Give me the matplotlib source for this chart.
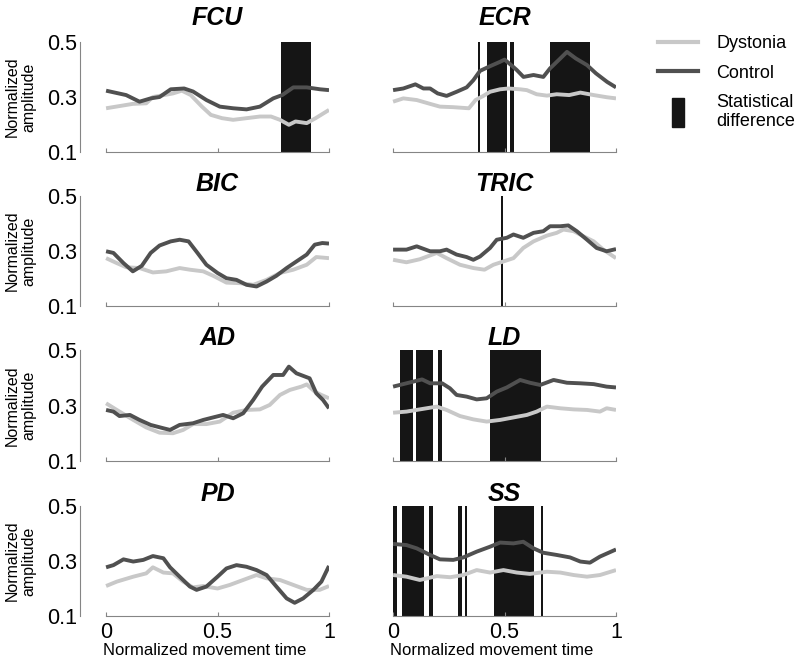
import matplotlib
matplotlib.use('Agg')
import matplotlib.pyplot as plt
from matplotlib.lines import Line2D
from matplotlib.patches import Rectangle
from matplotlib.legend_handler import HandlerPatch

plt.rcParams['font.family'] = ['Liberation Sans', 'DejaVu Sans']

# ---------- data ----------
muscles = ['FCU', 'ECR', 'BIC', 'TRIC', 'AD', 'LD', 'PD', 'SS']

fcu_cx = [0, 0.09, 0.15, 0.2, 0.24, 0.29, 0.35, 0.39, 0.45, 0.51, 0.57, 0.63, 0.69, 0.75, 0.79, 0.84, 0.9, 0.96, 1]
fcu_c = [0.323, 0.307, 0.283, 0.295, 0.30, 0.328, 0.331, 0.32, 0.289, 0.265, 0.259, 0.255, 0.265, 0.295, 0.307, 0.335, 0.335, 0.328, 0.325]
fcu_dx = [0, 0.06, 0.12, 0.18, 0.21, 0.26, 0.3, 0.34, 0.38, 0.43, 0.47, 0.52, 0.57, 0.63, 0.69, 0.74, 0.78, 0.82, 0.85, 0.9, 0.94, 1]
fcu_d = [0.259, 0.267, 0.275, 0.277, 0.30, 0.307, 0.313, 0.323, 0.307, 0.265, 0.235, 0.223, 0.217, 0.223, 0.229, 0.229, 0.217, 0.199, 0.211, 0.205, 0.223, 0.253]

ecr_cx = [0, 0.046, 0.1, 0.136, 0.166, 0.2, 0.24, 0.285, 0.33, 0.36, 0.39, 0.435, 0.48, 0.5, 0.53, 0.555, 0.585, 0.63, 0.674, 0.704, 0.75, 0.78, 0.82, 0.87, 0.91, 0.96, 1]
ecr_c = [0.325, 0.331, 0.346, 0.331, 0.331, 0.313, 0.304, 0.319, 0.335, 0.361, 0.395, 0.412, 0.428, 0.436, 0.416, 0.398, 0.373, 0.38, 0.373, 0.404, 0.44, 0.464, 0.44, 0.416, 0.386, 0.355, 0.335]
ecr_dx = [0, 0.046, 0.106, 0.166, 0.21, 0.27, 0.34, 0.37, 0.405, 0.435, 0.48, 0.517, 0.57, 0.6, 0.644, 0.69, 0.734, 0.79, 0.84, 0.9, 0.96, 1]
ecr_d = [0.283, 0.295, 0.289, 0.275, 0.265, 0.263, 0.259, 0.289, 0.304, 0.319, 0.328, 0.331, 0.328, 0.325, 0.31, 0.305, 0.31, 0.307, 0.316, 0.307, 0.299, 0.295]

bic_cx = [0, 0.033, 0.078, 0.12, 0.16, 0.2, 0.24, 0.29, 0.33, 0.37, 0.41, 0.45, 0.5, 0.54, 0.585, 0.63, 0.675, 0.72, 0.764, 0.81, 0.854, 0.9, 0.936, 0.97, 1]
bic_c = [0.299, 0.293, 0.256, 0.226, 0.246, 0.293, 0.32, 0.335, 0.341, 0.335, 0.293, 0.25, 0.22, 0.201, 0.195, 0.177, 0.171, 0.189, 0.21, 0.238, 0.262, 0.287, 0.323, 0.329, 0.327]
bic_dx = [0, 0.048, 0.09, 0.15, 0.21, 0.27, 0.33, 0.376, 0.436, 0.48, 0.54, 0.6, 0.66, 0.72, 0.78, 0.84, 0.9, 0.943, 1]
bic_d = [0.274, 0.256, 0.241, 0.238, 0.222, 0.226, 0.238, 0.232, 0.226, 0.21, 0.185, 0.183, 0.177, 0.195, 0.22, 0.232, 0.25, 0.278, 0.274]

tric_cx = [0, 0.06, 0.106, 0.166, 0.21, 0.24, 0.285, 0.33, 0.36, 0.39, 0.435, 0.465, 0.51, 0.54, 0.584, 0.63, 0.674, 0.704, 0.75, 0.786, 0.824, 0.87, 0.913, 0.958, 1]
tric_c = [0.305, 0.305, 0.317, 0.299, 0.299, 0.305, 0.287, 0.278, 0.268, 0.28, 0.311, 0.341, 0.348, 0.36, 0.348, 0.366, 0.372, 0.39, 0.39, 0.393, 0.372, 0.341, 0.311, 0.299, 0.307]
tric_dx = [0, 0.06, 0.12, 0.196, 0.24, 0.3, 0.36, 0.41, 0.45, 0.495, 0.54, 0.584, 0.63, 0.69, 0.734, 0.764, 0.81, 0.853, 0.9, 0.943, 1]
tric_d = [0.268, 0.259, 0.27, 0.293, 0.274, 0.25, 0.238, 0.232, 0.25, 0.262, 0.274, 0.311, 0.335, 0.356, 0.366, 0.378, 0.372, 0.354, 0.335, 0.305, 0.274]

ad_cx = [0, 0.033, 0.06, 0.107, 0.15, 0.2, 0.257, 0.287, 0.33, 0.39, 0.436, 0.48, 0.525, 0.57, 0.615, 0.66, 0.7, 0.75, 0.794, 0.82, 0.854, 0.913, 0.943, 0.973, 1]
ad_c = [0.284, 0.278, 0.262, 0.266, 0.248, 0.23, 0.218, 0.212, 0.23, 0.236, 0.248, 0.257, 0.266, 0.254, 0.272, 0.32, 0.368, 0.41, 0.41, 0.44, 0.416, 0.398, 0.344, 0.32, 0.29]
ad_dx = [0, 0.048, 0.122, 0.18, 0.24, 0.3, 0.346, 0.39, 0.45, 0.51, 0.57, 0.63, 0.69, 0.734, 0.78, 0.824, 0.876, 0.9, 0.936, 0.966, 1]
ad_d = [0.308, 0.284, 0.248, 0.221, 0.202, 0.2, 0.212, 0.233, 0.233, 0.242, 0.274, 0.284, 0.286, 0.302, 0.338, 0.356, 0.368, 0.376, 0.35, 0.338, 0.326]

ld_cx = [0, 0.06, 0.13, 0.166, 0.22, 0.255, 0.285, 0.33, 0.375, 0.42, 0.465, 0.51, 0.57, 0.614, 0.66, 0.72, 0.78, 0.84, 0.9, 0.958, 1]
ld_c = [0.368, 0.38, 0.394, 0.38, 0.38, 0.362, 0.338, 0.332, 0.322, 0.326, 0.35, 0.365, 0.392, 0.382, 0.374, 0.392, 0.382, 0.38, 0.377, 0.368, 0.365]
ld_dx = [0, 0.06, 0.12, 0.196, 0.24, 0.3, 0.36, 0.42, 0.48, 0.54, 0.6, 0.644, 0.69, 0.75, 0.81, 0.87, 0.928, 0.958, 1]
ld_d = [0.274, 0.278, 0.286, 0.296, 0.284, 0.262, 0.25, 0.242, 0.248, 0.257, 0.266, 0.278, 0.296, 0.29, 0.286, 0.284, 0.278, 0.29, 0.284]

pd_cx = [0, 0.033, 0.078, 0.122, 0.167, 0.21, 0.257, 0.287, 0.33, 0.376, 0.406, 0.45, 0.5, 0.54, 0.585, 0.63, 0.675, 0.72, 0.764, 0.81, 0.846, 0.884, 0.93, 0.966, 1]
pd_c = [0.277, 0.285, 0.306, 0.298, 0.304, 0.318, 0.31, 0.277, 0.243, 0.207, 0.195, 0.207, 0.243, 0.273, 0.285, 0.279, 0.267, 0.249, 0.207, 0.164, 0.148, 0.164, 0.195, 0.225, 0.282]
pd_dx = [0, 0.048, 0.122, 0.18, 0.21, 0.257, 0.3, 0.346, 0.39, 0.436, 0.5, 0.555, 0.615, 0.675, 0.72, 0.78, 0.84, 0.9, 0.958, 1]
pd_d = [0.209, 0.225, 0.243, 0.255, 0.277, 0.258, 0.255, 0.225, 0.204, 0.209, 0.2, 0.213, 0.231, 0.249, 0.237, 0.231, 0.213, 0.195, 0.195, 0.209]

ss_cx = [0, 0.06, 0.106, 0.166, 0.21, 0.27, 0.315, 0.375, 0.435, 0.48, 0.54, 0.584, 0.63, 0.674, 0.734, 0.794, 0.84, 0.883, 0.928, 1]
ss_c = [0.362, 0.358, 0.346, 0.322, 0.306, 0.304, 0.313, 0.334, 0.352, 0.367, 0.364, 0.37, 0.346, 0.33, 0.322, 0.313, 0.298, 0.294, 0.316, 0.342]
ss_dx = [0, 0.06, 0.12, 0.196, 0.256, 0.315, 0.375, 0.435, 0.495, 0.555, 0.614, 0.69, 0.75, 0.81, 0.87, 0.928, 1]
ss_d = [0.249, 0.243, 0.231, 0.245, 0.241, 0.249, 0.267, 0.258, 0.267, 0.258, 0.253, 0.261, 0.258, 0.249, 0.243, 0.249, 0.267]

# significant intervals (start, end) in normalized time
fcu_sig = [(0.784, 0.921)]
ecr_sig = [(0.383, 0.391), (0.423, 0.513), (0.525, 0.543), (0.706, 0.885)]
bic_sig = []
tric_sig = [(0.485, 0.493)]
ad_sig = []
ld_sig = [(0.031, 0.091), (0.102, 0.178), (0.203, 0.220), (0.435, 0.664)]
pd_sig = []
ss_sig = [(0.0, 0.019), (0.039, 0.139), (0.161, 0.181), (0.293, 0.309), (0.323, 0.332), (0.454, 0.634), (0.665, 0.674)]

ctl_x = dict(FCU=fcu_cx, ECR=ecr_cx, BIC=bic_cx, TRIC=tric_cx, AD=ad_cx, LD=ld_cx, PD=pd_cx, SS=ss_cx)
ctl_y = dict(FCU=fcu_c, ECR=ecr_c, BIC=bic_c, TRIC=tric_c, AD=ad_c, LD=ld_c, PD=pd_c, SS=ss_c)
dys_x = dict(FCU=fcu_dx, ECR=ecr_dx, BIC=bic_dx, TRIC=tric_dx, AD=ad_dx, LD=ld_dx, PD=pd_dx, SS=ss_dx)
dys_y = dict(FCU=fcu_d, ECR=ecr_d, BIC=bic_d, TRIC=tric_d, AD=ad_d, LD=ld_d, PD=pd_d, SS=ss_d)
sig = dict(FCU=fcu_sig, ECR=ecr_sig, BIC=bic_sig, TRIC=tric_sig, AD=ad_sig, LD=ld_sig, PD=pd_sig, SS=ss_sig)

yticks = [0.1, 0.3, 0.5]
yticklabels = ['0.1', '0.3', '0.5']
xticks = [0, 0.5, 1]
xticklabels = ['0', '0.5', '1']

# ---------- style ----------
c_dys = '#c8c8c8'
c_ctl = '#505050'
c_bar = '#151515'
c_axis = '#858585'
W, H = 800, 665
x0 = -0.117

fig = plt.figure(figsize=(W / 100, H / 100), dpi=100)

col_left = [80, 367]
col_w = 249
row_top = [42, 196, 350, 506]
row_bot = [152, 306, 461, 616]
title_pad = [12, 2, 1, 1.5]

for i, m in enumerate(muscles):
    r, c = i // 2, i % 2
    ax = fig.add_axes([col_left[c] / W, 1 - row_bot[r] / H, col_w / W, (row_bot[r] - row_top[r]) / H])
    for (a, b) in sig[m]:
        ax.bar(a, 0.4, width=b - a, bottom=0.1, align='edge', color=c_bar, linewidth=0, zorder=1)
    ax.plot(dys_x[m], dys_y[m], color=c_dys, lw=2.8, zorder=3, solid_capstyle='butt')
    ax.plot(ctl_x[m], ctl_y[m], color=c_ctl, lw=2.8, zorder=4, solid_capstyle='butt')
    ax.set_xlim(x0, 1.0)
    ax.set_ylim(0.1, 0.5)
    for s in ['top', 'right']:
        ax.spines[s].set_visible(False)
    ax.spines['bottom'].set_bounds(0, 1)
    ax.spines['bottom'].set_color(c_axis)
    ax.spines['left'].set_color(c_axis)
    ax.set_xticks(xticks)
    ax.tick_params(axis='x', direction='in', length=3, color=c_axis, labelsize=15.5, pad=4)
    if r == 3:
        ax.set_xticklabels(xticklabels)
        ax.set_xlabel('Normalized movement time', fontsize=12, labelpad=0)
    else:
        ax.set_xticklabels([])
    if c == 0:
        ax.set_yticks(yticks)
        ax.set_yticklabels(yticklabels)
        ax.tick_params(axis='y', length=0, labelsize=15.5, pad=2)
        ax.set_ylabel('Normalized\namplitude', fontsize=11.5, labelpad=8, linespacing=1.1)
    else:
        ax.spines['left'].set_visible(False)
        ax.set_yticks([])
    ax.set_title(m, fontsize=18, fontweight='bold', fontstyle='italic',
                 x=(0.5 - x0) / (1 - x0), pad=title_pad[r])


def make_bar(legend, orig_handle, xdescent, ydescent, width, height, fontsize):
    w, h = 8.5, 21
    return Rectangle((width / 2 - w / 2 - xdescent, height / 2 - h / 2 - ydescent), w, h)


handles = [Line2D([], [], color=c_dys, lw=3),
           Line2D([], [], color=c_ctl, lw=3),
           Rectangle((0, 0), 1, 1, color=c_bar)]
labels = ['Dystonia', 'Control', 'Statistical\ndifference']
fig.legend(handles, labels, loc='upper left', bbox_to_anchor=(642 / W, 1 - 19 / H),
           frameon=False, fontsize=13, handlelength=2.2, handletextpad=1.0,
           labelspacing=0.68, handler_map={Rectangle: HandlerPatch(patch_func=make_bar)})

fig.savefig('out.png', dpi=100)
